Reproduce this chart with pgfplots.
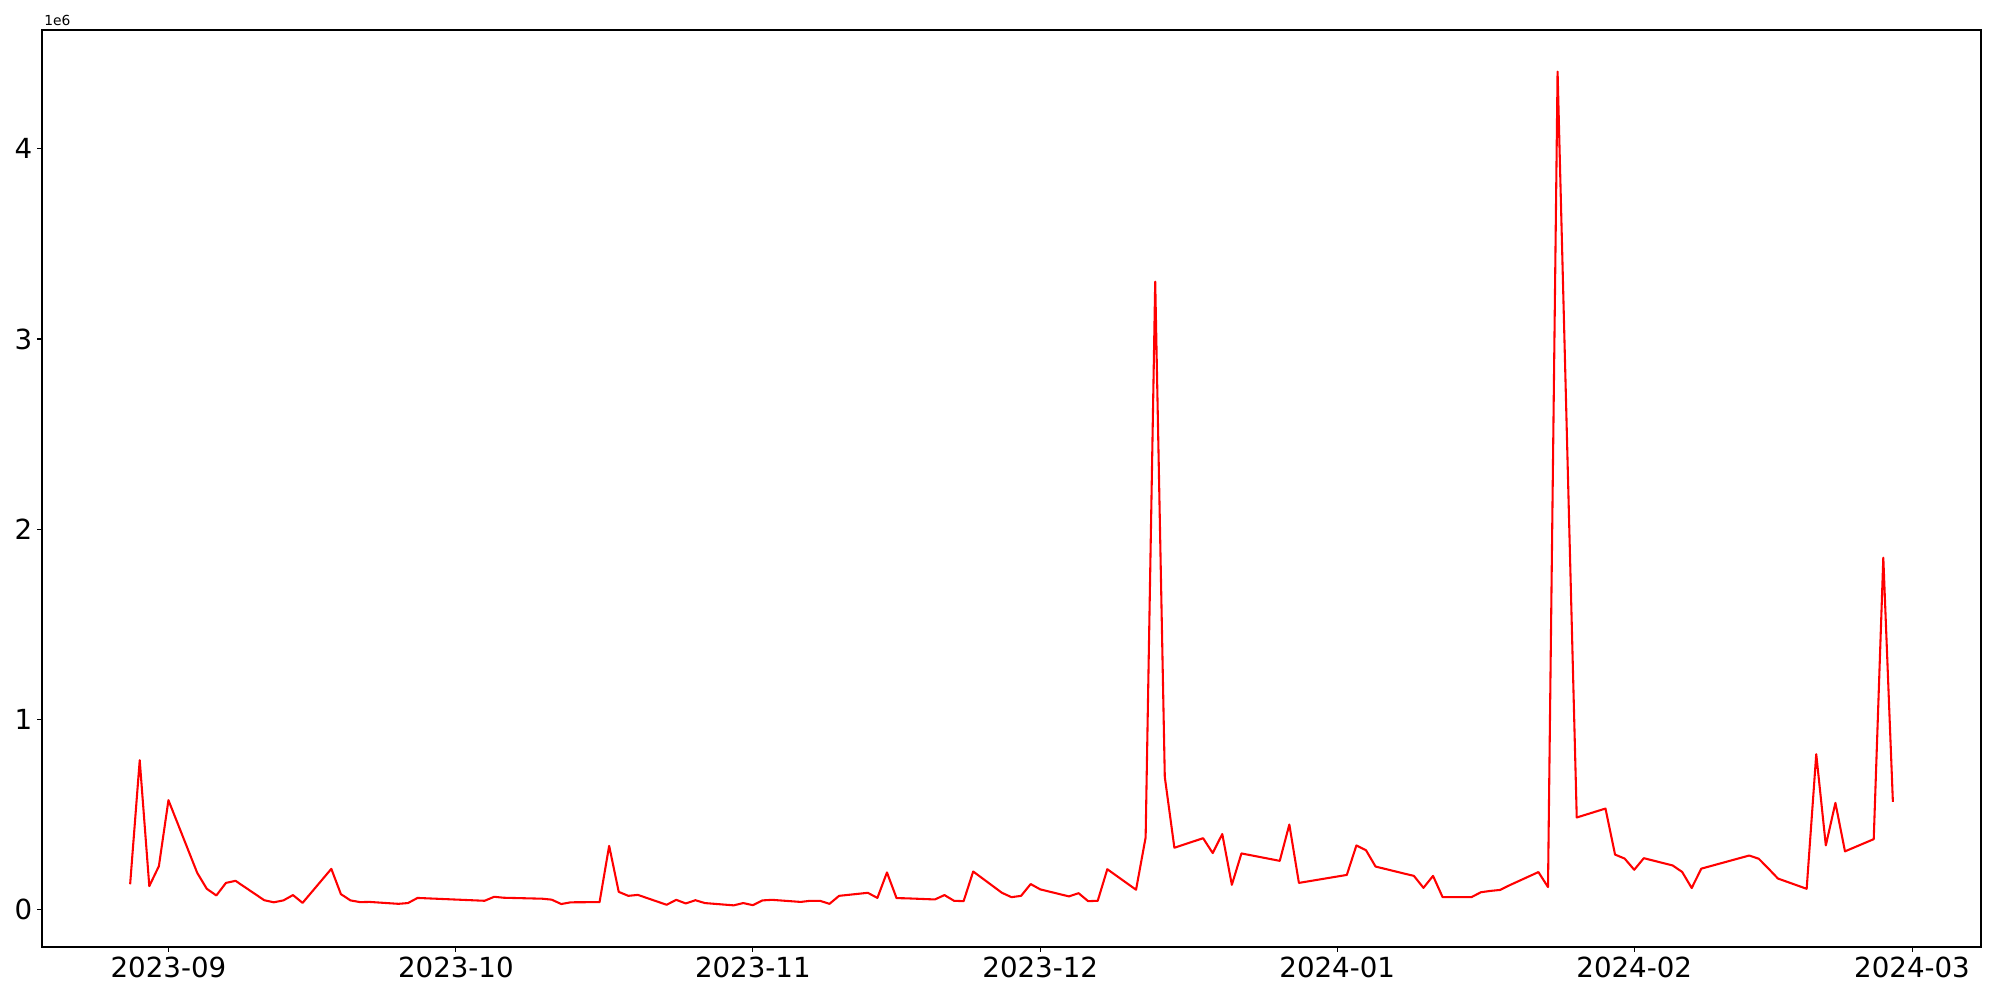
\documentclass[border=0pt]{standalone}
\usepackage{fontspec}
\setmainfont{DejaVu Sans}
\usepackage{pgfplots}
\usepackage{pgfplotstable}
\pgfplotsset{compat=1.18}
% day index: 0 = 2023-09-01 ; value in millions
\pgfplotstableread{
d v
-4 0.133
-3 0.785
-2 0.123
-1 0.228
0 0.575
3 0.193
4 0.109
5 0.074
6 0.140
7 0.151
10 0.049
11 0.038
12 0.048
13 0.076
14 0.035
17 0.214
18 0.081
19 0.048
20 0.039
21 0.040
24 0.030
25 0.034
26 0.061
33 0.046
34 0.067
35 0.062
39 0.057
40 0.052
41 0.029
42 0.038
45 0.039
46 0.335
47 0.093
48 0.072
49 0.077
52 0.025
53 0.051
54 0.032
55 0.049
56 0.034
59 0.022
60 0.034
61 0.023
62 0.048
63 0.051
66 0.040
67 0.046
68 0.046
69 0.030
70 0.072
73 0.088
74 0.061
75 0.195
76 0.060
77 0.059
80 0.053
81 0.076
82 0.046
83 0.044
84 0.200
87 0.088
88 0.065
89 0.072
90 0.134
91 0.106
94 0.069
95 0.086
96 0.044
97 0.046
98 0.212
101 0.104
102 0.379
103 3.302
104 0.697
105 0.325
108 0.375
109 0.297
110 0.397
111 0.130
112 0.295
116 0.256
117 0.447
118 0.140
123 0.182
124 0.337
125 0.312
126 0.226
129 0.189
130 0.177
131 0.114
132 0.177
133 0.065
136 0.065
137 0.091
138 0.098
139 0.103
140 0.128
143 0.197
144 0.118
145 4.406
146 2.440
147 0.484
150 0.531
151 0.289
152 0.268
153 0.209
154 0.270
157 0.232
158 0.198
159 0.113
160 0.215
165 0.284
166 0.267
167 0.216
168 0.163
171 0.109
172 0.817
173 0.337
174 0.561
175 0.306
178 0.370
179 1.850
180 0.566
}\datatable
\begin{document}
\begin{tikzpicture}
\path[use as bounding box] (0,0) rectangle (20in,10in);
\begin{axis}[
  name=ax,
  at={(0.42in,0.53in)}, anchor=south west,
  scale only axis, width=19.39in, height=9.17in,
  xmin=-13.2, xmax=189.2, ymin=-0.197, ymax=4.625,
  xtick={0,30,61,91,122,153,182},
  xticklabels={2023-09,2023-10,2023-11,2023-12,2024-01,2024-02,2024-03},
  ytick={0,1,2,3,4},
  yticklabels={0,1,2,3,4},
  minor tick num=0,
  tick pos=left,
  tick align=outside,
  major tick length=3.5pt,
  every tick/.style={black, line width=0.8pt},
  axis line style={line width=0.8pt},
  tick label style={font=\fontsize{20}{24}\selectfont},
  /pgf/number format/assume math mode=true,
  scaled y ticks=false,
  scaled x ticks=false,
]
\addplot[red, line width=1.5pt, line join=round, mark=none] table[x=d, y=v] {\datatable};
\end{axis}
\node[anchor=base west, inner sep=0pt, font=\fontsize{10}{12}\selectfont] at ([xshift=0.02in, yshift=0.046in]ax.north west) {1e6};
\end{tikzpicture}
\end{document}
